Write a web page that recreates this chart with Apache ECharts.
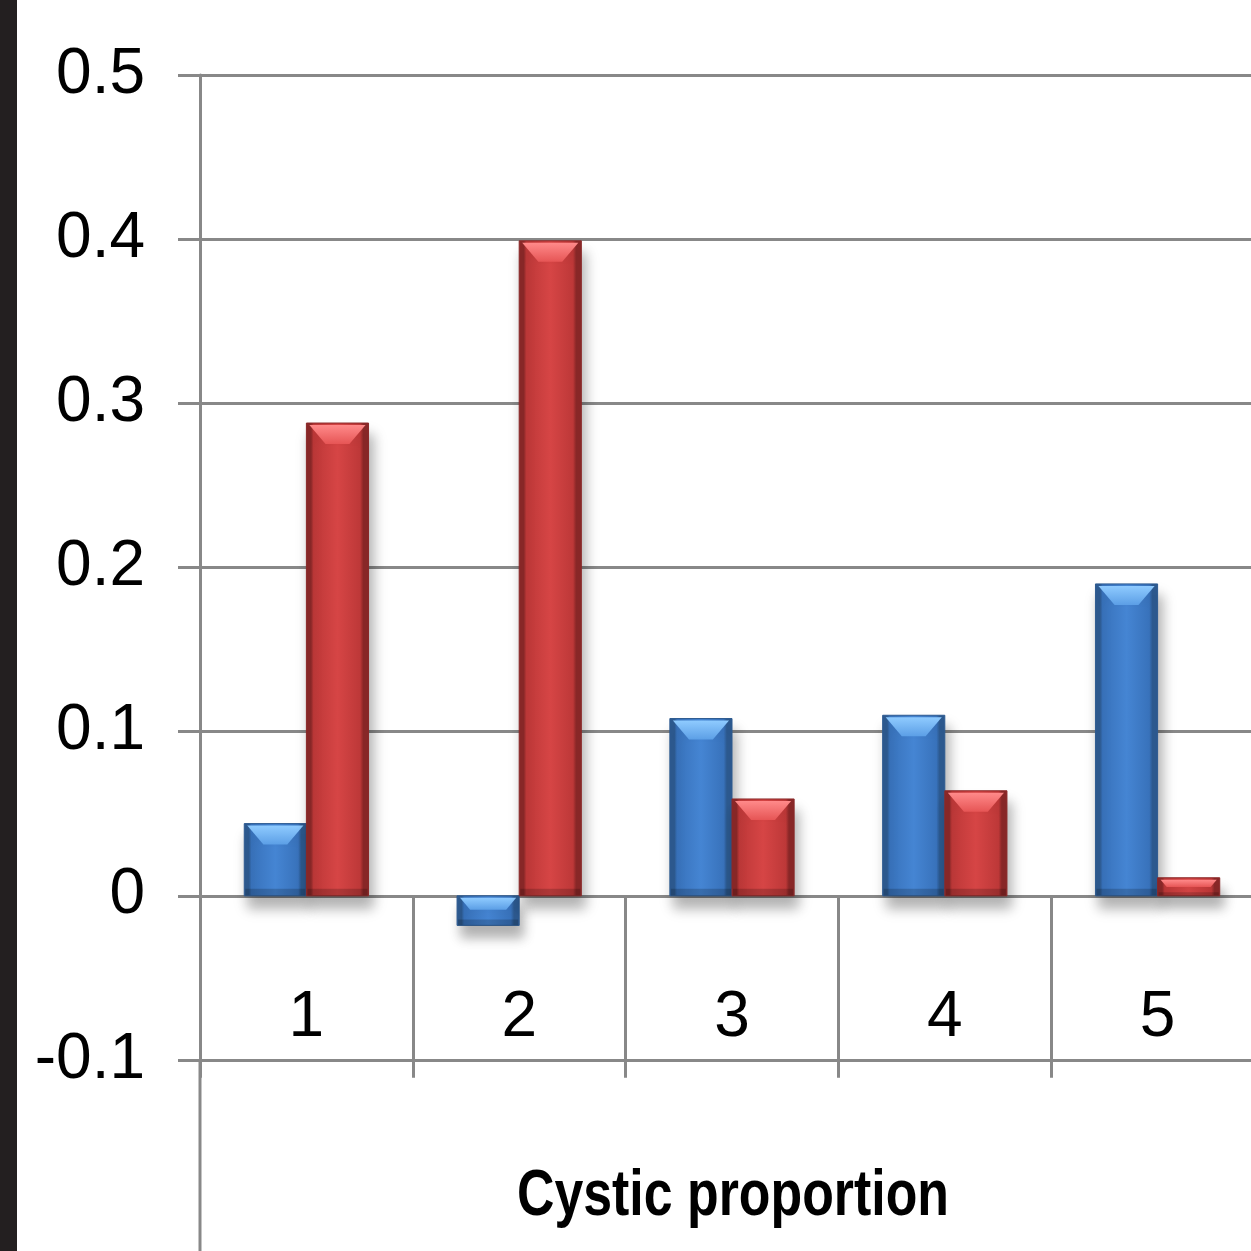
<!DOCTYPE html>
<html>
<head>
<meta charset="utf-8">
<script src="https://cdn.jsdelivr.net/npm/echarts@6/dist/echarts.min.js"></script>
<style>
  html, body { margin: 0; padding: 0; background: #fff; }
  #chart { width: 1251px; height: 1251px; }
</style>
</head>
<body>
<div id="chart"></div>
<script>
// values
const categories = ['1', '2', '3', '4', '5'];
const blueValues = [0.044, -0.018, 0.108, 0.110, 0.190];
const redValues = [0.288, 0.399, 0.059, 0.064, 0.011];
const axisTitle = 'Cystic proportion';

const gridGray = '#888888';

// 3D-ish bar with a light bevel on top, like the old Excel style
function bevelBar(side, pal) {
    return function (params, api) {
        const cat = api.value(0);
        const val = api.value(1);
        const base = api.coord([cat, 0]);
        const end = api.coord([cat, val]);
        const band = api.size([1, 0])[0];
        const w = band * 0.292;
        const x = side < 0 ? base[0] - w : base[0];
        const y = Math.min(base[1], end[1]);
        const h = Math.abs(base[1] - end[1]);
        const bh = Math.min(19, h * 0.4);
        const inset = 3;
        const slant = bh * 0.85;

        const body = new echarts.graphic.LinearGradient(0, 0, 1, 0, [
            { offset: 0, color: pal.edge },
            { offset: 0.08, color: pal.edge },
            { offset: 0.12, color: pal.mid },
            { offset: 0.5, color: pal.light },
            { offset: 0.86, color: pal.mid },
            { offset: 0.91, color: pal.edge },
            { offset: 1, color: pal.edge }
        ]);

        return {
            type: 'group',
            children: [
                {
                    type: 'rect',
                    shape: { x: x, y: y, width: w, height: h },
                    style: {
                        fill: body,
                        stroke: pal.edge,
                        lineWidth: 1,
                        shadowBlur: 12,
                        shadowOffsetX: 4,
                        shadowOffsetY: 12,
                        shadowColor: 'rgba(0,0,0,0.3)'
                    }
                },
                {
                    type: 'polygon',
                    shape: {
                        points: [
                            [x + inset, y + 2],
                            [x + w - inset, y + 2],
                            [x + w - inset - slant, y + 2 + bh],
                            [x + inset + slant, y + 2 + bh]
                        ]
                    },
                    style: {
                        fill: new echarts.graphic.LinearGradient(0, 0, 0, 1, [
                            { offset: 0, color: pal.bevelTop },
                            { offset: 1, color: pal.bevelBottom }
                        ])
                    }
                },
                {
                    type: 'rect',
                    shape: { x: x + 1, y: y + h - Math.min(7, h * 0.2), width: w - 2, height: Math.min(7, h * 0.2) },
                    style: { fill: 'rgba(0,0,0,0.18)' }
                }
            ]
        };
    };
}

const bluePal = { edge: '#2d5a90', mid: '#3872bb', light: '#4585d3', bevelTop: '#8fcbff', bevelBottom: '#5c9fe6' };
const redPal = { edge: '#8a2828', mid: '#bd3838', light: '#d64545', bevelTop: '#ff8a8a', bevelBottom: '#e65555' };

const chart = echarts.init(document.getElementById('chart'), null, { renderer: 'canvas' });

const labelFont = '"Liberation Sans", Arial, sans-serif';

const option = {
    backgroundColor: '#ffffff',
    animation: false,
    grid: { left: 200, top: 75, right: -13, bottom: 191, outerBoundsMode: 'none', containLabel: false },
    xAxis: {
        type: 'category',
        data: categories,
        boundaryGap: true,
        axisLine: { show: true, onZero: true, lineStyle: { color: gridGray, width: 3 } },
        axisTick: { show: true, length: 182, lineStyle: { color: gridGray, width: 3 } },
        axisLabel: { margin: -74, fontSize: 64, fontFamily: labelFont, color: '#000' },
        splitLine: { show: false }
    },
    yAxis: {
        type: 'value',
        min: -0.1,
        max: 0.5,
        interval: 0.1,
        axisLine: { show: true, lineStyle: { color: gridGray, width: 3 } },
        axisTick: { show: true, length: 22, lineStyle: { color: gridGray, width: 3 } },
        axisLabel: {
            margin: 55,
            fontSize: 64,
            fontFamily: labelFont,
            color: '#000',
            formatter: v => (Math.round(v * 10) / 10).toString()
        },
        splitLine: { show: true, lineStyle: { color: gridGray, width: 3 } }
    },
    series: [
        {
            name: 'blue',
            type: 'custom',
            renderItem: bevelBar(-1, bluePal),
            encode: { x: 0, y: 1 },
            data: blueValues.map((v, i) => [i, v])
        },
        {
            name: 'red',
            type: 'custom',
            renderItem: bevelBar(1, redPal),
            encode: { x: 0, y: 1 },
            data: redValues.map((v, i) => [i, v])
        }
    ],
    graphic: [
        // dark band on the left edge
        { type: 'rect', left: 0, top: 0, shape: { width: 17, height: 1251 }, style: { fill: '#231f20' }, z: 10 },
        // y axis line runs on below the plot
        { type: 'line', shape: { x1: 200, y1: 1060, x2: 200, y2: 1251 }, style: { stroke: gridGray, lineWidth: 3 }, z: 10 },
        // axis title, squeezed like the original condensed face
        {
            type: 'text',
            x: 733,
            y: 1197,
            scaleX: 0.81,
            style: {
                text: axisTitle,
                font: 'bold 64px "Liberation Sans", Arial, sans-serif',
                fill: '#000',
                align: 'center',
                verticalAlign: 'middle'
            },
            z: 10
        }
    ]
};

chart.setOption(option);

window.addEventListener('resize', () => {
    chart.resize();
});
</script>
</body>
</html>
